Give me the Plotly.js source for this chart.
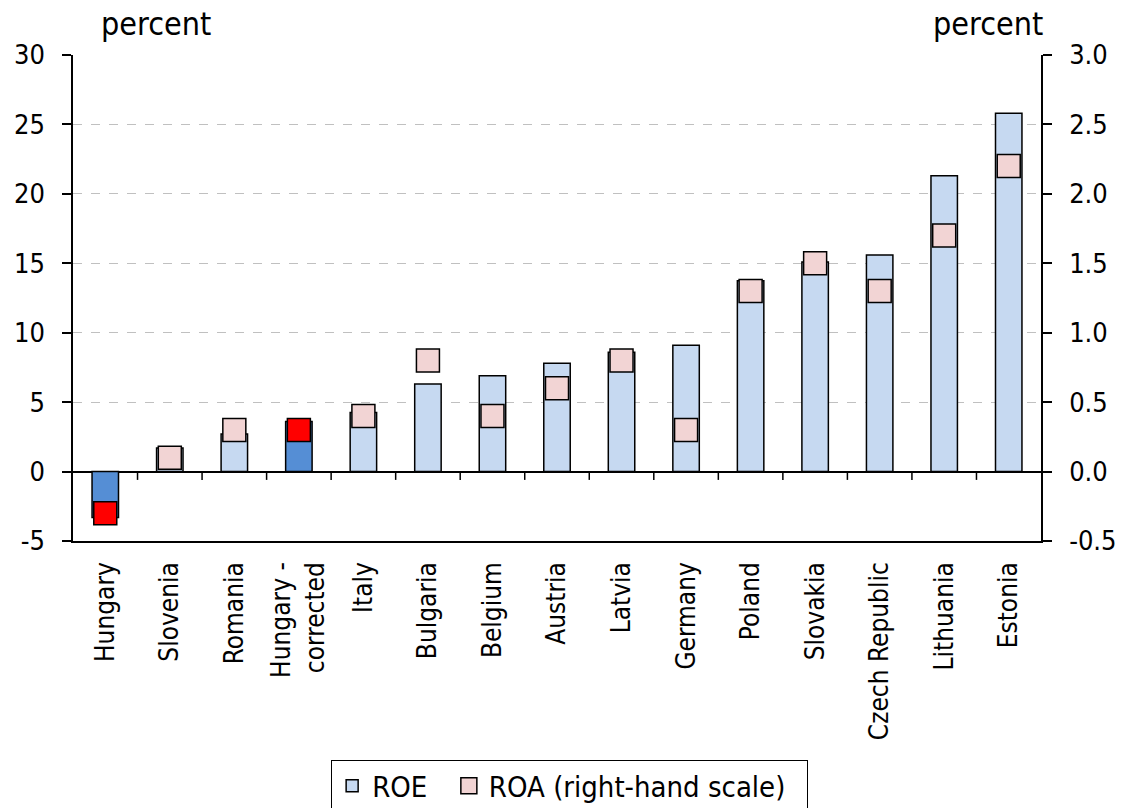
<!DOCTYPE html>
<html>
<head>
<meta charset="utf-8">
<script src="https://cdn.plot.ly/plotly-3.0.1.min.js"></script>
<style>html,body{margin:0;padding:0;background:#fff;}#chart{width:1128px;height:808px;}</style>
</head>
<body>
<div id="chart"></div>
<script>
const categories = ["Hungary", "Slovenia", "Romania", "Hungary -<br>corrected", "Italy", "Bulgaria", "Belgium", "Austria", "Latvia", "Germany", "Poland", "Slovakia", "Czech Republic", "Lithuania", "Estonia"];
const roe = [-3.3, 1.7, 2.7, 3.6, 4.25, 6.3, 6.9, 7.8, 8.6, 9.1, 13.75, 15.1, 15.6, 21.3, 25.8];
const roa = [-0.3, 0.1, 0.3, 0.3, 0.4, 0.8, 0.4, 0.6, 0.8, 0.3, 1.3, 1.5, 1.3, 1.7, 2.2];
const highlighted = ["Hungary", "Hungary -<br>corrected"];
const leftTicks = [-5, 0, 5, 10, 15, 20, 25, 30];
const rightTicks = [-0.5, 0, 0.5, 1, 1.5, 2, 2.5, 3];

const FONT = "DejaVu Sans Condensed, DejaVu Sans, sans-serif";
const isHi = c => highlighted.includes(c);
const NB = "\u00a0";

const traces = [
  {type: "bar", name: "ROE" + NB + NB, x: categories, y: roe.map((v, i) => isHi(categories[i]) ? null : v),
   width: 0.41, marker: {color: "#c6d9f1", line: {color: "#000", width: 1.5}}, showlegend: true},
  {type: "bar", name: "ROE Hungary", x: categories, y: roe.map((v, i) => isHi(categories[i]) ? v : null),
   width: 0.41, marker: {color: "#558ed5", line: {color: "#000", width: 1.5}}, showlegend: false},
  {type: "scatter", mode: "markers", name: "ROA (right-hand scale)" + NB + NB, x: categories, yaxis: "y2",
   y: roa.map((v, i) => isHi(categories[i]) ? null : v),
   marker: {symbol: "square", size: 23, color: "#f2d4d4", line: {color: "#000", width: 1.5}}, showlegend: true},
  {type: "scatter", mode: "markers", name: "ROA Hungary", x: categories, yaxis: "y2",
   y: roa.map((v, i) => isHi(categories[i]) ? v : null),
   marker: {symbol: "square", size: 23, color: "#ff0000", line: {color: "#000", width: 1.5}}, showlegend: false}
];

const shapes = categories.slice(0, -1).map((c, i) => ({
  type: "line", xref: "x", yref: "y", x0: i + 0.5, x1: i + 0.5, y0: 0, y1: -0.6,
  line: {color: "#000", width: 1.5}
}));

const layout = {
  width: 1128, height: 808,
  margin: {l: 73, r: 87, t: 55, b: 267},
  paper_bgcolor: "#fff", plot_bgcolor: "#fff",
  font: {family: FONT, color: "#000", size: 26},
  barmode: "overlay",
  showlegend: true,
  legend: {orientation: "h", xref: "container", yref: "container", x: 0.505, xanchor: "center", y: 0.06, yanchor: "top",
    bordercolor: "#000", borderwidth: 1, font: {size: 29, family: FONT}, traceorder: "normal",
    itemwidth: 30},
  xaxis: {type: "category", range: [-0.5, categories.length - 0.5], showline: true, linecolor: "#000", linewidth: 1.5,
    ticks: "", tickangle: -90, tickfont: {size: 26, family: FONT}, showgrid: false, zeroline: false,
    automargin: false, ticklabelstandoff: 9},
  yaxis: {range: [-5, 30], tickvals: leftTicks, ticktext: leftTicks.map(String), showline: true, linecolor: "#000", linewidth: 1.5,
    ticks: "outside", ticklen: 9, tickwidth: 1.5, tickcolor: "#000", tickfont: {size: 27, family: FONT},
    showgrid: true, gridcolor: "#c0c0c0", griddash: "dash", gridwidth: 1,
    zeroline: true, zerolinecolor: "#000", zerolinewidth: 1.5, automargin: false, ticklabelstandoff: 12},
  yaxis2: {overlaying: "y", side: "right", range: [-0.5, 3.0], tickvals: rightTicks, ticktext: rightTicks.map(v => v.toFixed(1)),
    showline: true, linecolor: "#000", linewidth: 1.5, ticks: "outside", ticklen: 9, tickwidth: 1.5, tickcolor: "#000",
    tickfont: {size: 27, family: FONT}, showgrid: false, zeroline: false, automargin: false, ticklabelstandoff: 12},
  shapes: shapes,
  annotations: [
    {text: "percent", xref: "paper", yref: "paper", x: 0.0857, xanchor: "center", y: 1.064, yanchor: "middle", showarrow: false, font: {size: 32, family: FONT}},
    {text: "percent", xref: "paper", yref: "paper", x: 0.945, xanchor: "center", y: 1.064, yanchor: "middle", showarrow: false, font: {size: 32, family: FONT}}
  ]
};

Plotly.newPlot("chart", traces, layout, {displayModeBar: false});
</script>
</body>
</html>
